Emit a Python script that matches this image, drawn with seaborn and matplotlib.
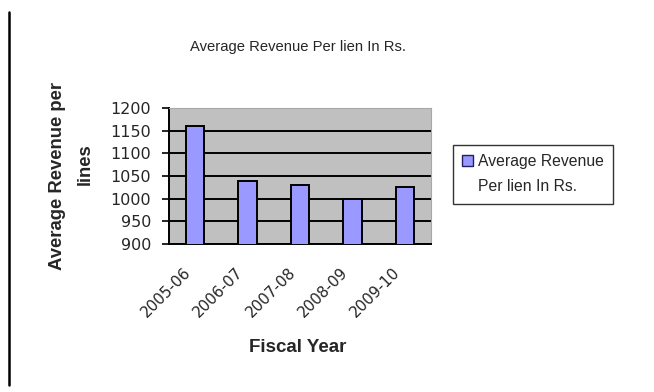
import matplotlib
matplotlib.use("Agg")
import matplotlib.pyplot as plt
import matplotlib.transforms as mtransforms
import seaborn as sns
import pandas as pd
from matplotlib.lines import Line2D
from matplotlib.patches import Patch

years = ["2005-06", "2006-07", "2007-08", "2008-09", "2009-10"]
revenue = [1160, 1039, 1030, 1000, 1025]
y_ticks = [900, 950, 1000, 1050, 1100, 1150, 1200]
legend_lines = ["Average Revenue", "Per lien In Rs."]

df = pd.DataFrame({"year": years, "revenue": revenue})

sns.set_theme(style="white")
plt.rcParams["font.family"] = ["Liberation Sans", "DejaVu Sans"]

BAR = "#9999FF"
W, H = 654, 392

fig = plt.figure(figsize=(W / 100, H / 100), dpi=100)
ax = fig.add_axes([169 / W, 1 - 244 / H, (431 - 169) / W, (244 - 108) / H])
ax.set_facecolor("#C0C0C0")

sns.barplot(data=df, x="year", y="revenue", ax=ax, color=BAR,
            width=0.35, edgecolor="black", linewidth=1.4, saturation=1,
            zorder=3)

ax.set_ylim(900, 1200)
ax.set_xlim(-0.5, len(years) - 0.5)
ax.set_yticks(y_ticks)
ax.set_yticklabels([str(v) for v in y_ticks], fontsize=11.5,
                   family="DejaVu Sans")
ax.yaxis.grid(True, color="black", linewidth=1.4, zorder=1)
ax.set_axisbelow(True)

# category labels on the centres, tick marks on the boundaries
ax.set_xticks(range(len(years)))
ax.set_xticklabels(years, rotation=45, ha="right", va="center",
                   rotation_mode="anchor", fontsize=11, family="DejaVu Sans")
ax.tick_params(axis="x", which="major", length=0, pad=19)
shift = mtransforms.ScaledTranslation(-7 / 100, 0, fig.dpi_scale_trans)
for lbl in ax.get_xticklabels():
    lbl.set_transform(lbl.get_transform() + shift)
ax.set_xticks([i - 0.5 for i in range(len(years) + 1)], minor=True)
ax.tick_params(axis="x", which="minor", length=5, width=1.2, color="black",
               direction="out")
ax.tick_params(axis="y", length=5, width=1.2, color="black", direction="out",
               left=True, pad=8)

for side in ["left", "bottom"]:
    ax.spines[side].set_color("black")
    ax.spines[side].set_linewidth(1.4)
for side in ["top", "right"]:
    ax.spines[side].set_color("#A8A8A8")
    ax.spines[side].set_linewidth(0.8)

ax.set_xlabel("")
ax.set_ylabel("")

fig.text(298 / W, 1 - 47 / H, "Average Revenue Per lien In Rs.", ha="center",
         va="center", fontsize=10.6)
fig.text(298 / W, 1 - 348 / H, "Fiscal Year", ha="center", va="center",
         fontsize=13.5, fontweight="bold")
fig.text(58 / W, 1 - 176 / H, "Average Revenue per", ha="center",
         va="center", rotation=90, fontsize=13.3, fontweight="bold")
fig.text(85 / W, 1 - 164 / H, "lines", ha="center",
         va="center", rotation=90, fontsize=13.3, fontweight="bold")

# legend: the series swatch sits beside the first line of the wrapped name
handles = [Patch(facecolor=BAR, edgecolor="#202060", linewidth=1.0),
           Patch(visible=False)]
leg = fig.legend(handles, legend_lines, loc="upper left",
                 bbox_to_anchor=(453 / W, 1 - 145 / H), fontsize=11.3,
                 frameon=True, fancybox=False, edgecolor="black",
                 handlelength=0.7, handleheight=0.7, handletextpad=0.3,
                 borderpad=0.6, labelspacing=0.62, borderaxespad=0)
leg.get_frame().set_linewidth(1.0)

# left border line of the page
fig.add_artist(Line2D([9 / W, 9 / W], [1 - 12 / H, 1 - 385 / H],
                      color="black", linewidth=1.8, transform=fig.transFigure))

fig.savefig("out.png", dpi=100)
